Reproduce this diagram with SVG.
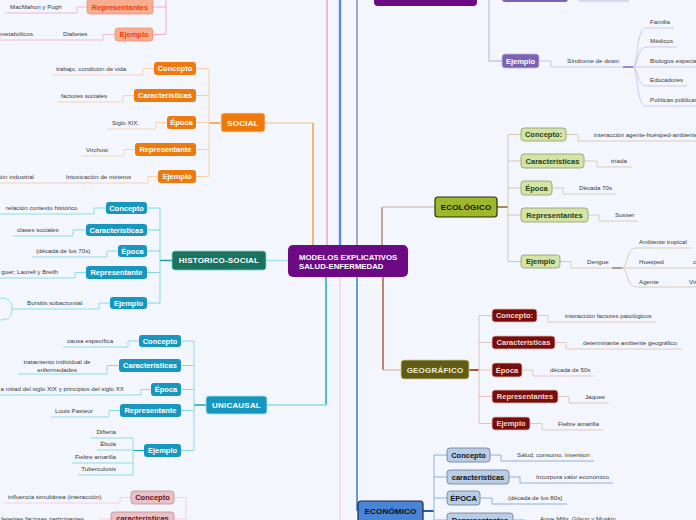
<svg xmlns="http://www.w3.org/2000/svg" width="696" height="520" viewBox="0 0 696 520">
<style>
text{font-family:"Liberation Sans",Arial,sans-serif}
.lf{font-size:6.2px;fill:#3a3a3a}
.le{font-size:6.2px;fill:#3a3a3a;text-anchor:end}
.lm{font-size:6.2px;fill:#3a3a3a;text-anchor:middle}
.nt{font-size:7.5px;font-weight:bold;text-anchor:middle}
.mt{font-size:8px;font-weight:bold;text-anchor:middle;letter-spacing:0.2px}
.w{fill:#ffffff}
path{fill:none;stroke-linejoin:round}
.or{fill:#ee7a0e}
.tl{fill:#1797bf}
.pk{fill:#f7ae90;stroke:#f0907a;stroke-width:0.8}
.pkt{fill:#f0400e}
.bp{fill:#e9c2c6;stroke:#c48a94;stroke-width:0.8}
.bpt{fill:#6a1028}
.eg{fill:#d4e4a4;stroke:#8a9d68;stroke-width:0.8}
.egt{fill:#24401a}
.gr{fill:#780d0d;stroke:#e8c0b8;stroke-width:0.8}
.grt{fill:#f4dcd0}
.ec{fill:#b8cde6;stroke:#6a7890;stroke-width:0.8}
.ect{fill:#111111}
.pu{fill:#7b62b2;stroke:#c0b4e0;stroke-width:0.8}
</style>
<rect x="0" y="0" width="696" height="520" fill="#f3f6fd"/>

<g id="connectors" stroke-width="1">
  <!-- main trunk lines from center -->
  <path d="M327,0 V245" stroke="#f5a0c4" stroke-width="1.5"/>
  <path d="M340,0 V245" stroke="#b8ccf8" stroke-width="3"/>
  <path d="M340,0 V245" stroke="#2a62f0" stroke-width="1.3"/>
  <path d="M357,0 V245" stroke="#9585c8" stroke-width="1.5"/>
  <path d="M265,123 H313" stroke="#f7d2b0" stroke-width="1.5"/>
  <path d="M313,123 V245" stroke="#f2a050" stroke-width="1.5"/>
  <path d="M266,260.5 H288" stroke="#a8e0ea" stroke-width="1.5"/>
  <path d="M382,245 V207" stroke="#b09070" stroke-width="1.5"/>
  <path d="M382,207 H435" stroke="#d4cabc" stroke-width="1.5"/>
  <path d="M326,277 V405" stroke="#18b0b0" stroke-width="1.5"/>
  <path d="M326,405 H267" stroke="#8fd8e0" stroke-width="1.5"/>
  <path d="M340,277 V520" stroke="#fcd0dc" stroke-width="1.5"/>
  <path d="M357,277 V511" stroke="#3a78d0" stroke-width="1.5"/>
  <path d="M383,277 V370" stroke="#a86038" stroke-width="1.5"/>
  <path d="M383,370 H401" stroke="#dcc0b0" stroke-width="1.5"/>

  <!-- SOCIAL -->
  <path d="M221,123 H209" stroke="#f29b45" stroke-width="1.5"/>
  <path d="M209,68.5 V176.5 M196,68.5 H209 M196,95.5 H209 M196,122.5 H209 M196,149.5 H209 M196,176.5 H209" stroke="#f7cfa8"/>
  <path d="M154,68.5 H143 V75 H52 M134,95.5 H123 V102 H57 M167,122.5 H156 V129 H107 M135,149.5 H124 V156 H82 M158,176.5 H148 V183 H0" stroke="#f7d2b4"/>

  <!-- top pink -->
  <path d="M166,-5 V34.5 M153,7 H166 M153,34.5 H166" stroke="#f4a8c8"/>
  <path d="M87,7 H77 V13 H5 M115,34.5 H103 V40 H0" stroke="#f4b8d0"/>

  <!-- HISTORICO-SOCIAL -->
  <path d="M172,260.5 H160" stroke="#1aa0a8" stroke-width="1.5"/>
  <path d="M160,208 V303 M147,208 H160 M147,230 H160 M147,251 H160 M147,272.5 H160 M147,303 H160" stroke="#7fd6e0"/>
  <path d="M106,208 H94 V214 H0 M86,230 H73 V236 H13 M118,251 H107 V257 H32 M86,272.5 H75 V278 H0 M110,303 H99 V309 H12 M12,309 C12,301 8,298 0,298 M12,309 C12,317 8,320 0,320" stroke="#8fdce4"/>

  <!-- UNICAUSAL -->
  <path d="M206,405 H194" stroke="#18a8b0" stroke-width="1.5"/>
  <path d="M194,341 V450.5 M181,341 H194 M181,365.5 H194 M181,389.5 H194 M181,410.5 H194 M181,450.5 H194" stroke="#8fd8e0"/>
  <path d="M139,341 H128 V347 H63 M119,365.5 H107 V374 H18 M151,389.5 H141 V395 H0 M120,410.5 H109 V417 H51" stroke="#8fdce4"/>
  <path d="M144,450.5 H133" stroke="#18a8b0" stroke-width="1.2"/>
  <path d="M133,438 V475 M133,438 H91 M133,450 H97 M133,463 H72 M133,475 H78" stroke="#8fdce4"/>

  <!-- bottom pink -->
  <path d="M186,497.5 V525 M174,497.5 H186 M174,519 H186" stroke="#f8d0dc"/>
  <path d="M131,497.5 H120 V503 H4 M111,519 H100 V525" stroke="#f8d0dc"/>

  <!-- top-right purple -->
  <path d="M489,0 V61 H502" stroke="#c8c0e4" stroke-width="1.3"/>
  <path d="M539,61 H551 V67 H623" stroke="#d0c8ea"/>
  <path d="M623,67 H633" stroke="#9a88cc" stroke-width="2"/>
  <path d="M633,67 C638,67 636,28 646,28 H674 M633,67 C638,67 637,47 646,47 H677 M633,67 H696 M633,67 C638,67 637,86 646,86 H687 M633,67 C638,67 636,106 646,106 H696" stroke="#d0c8ea"/>

  <!-- ECOLOGICO -->
  <path d="M497,207 H508" stroke="#a08a60" stroke-width="2"/>
  <path d="M508,134.5 V261.5 M508,134.5 H521 M508,161 H521 M508,188 H521 M508,215 H521 M508,261.5 H521" stroke="#d4c8b4"/>
  <path d="M566,134.5 H578 V141 H696 M584,161 H597 V167 H632 M552,188 H563 V194 H616 M588,215 H599 V221 H638 M560,261.5 H571 V268 H612" stroke="#d8ccba"/>
  <path d="M612,268 H622" stroke="#b0a080" stroke-width="2"/>
  <path d="M622,268 C628,268 626,248 636,248 H692 M622,268 H696 M622,268 C628,268 626,287 636,287 H696" stroke="#d8ccba"/>

  <!-- GEOGRAFICO -->
  <path d="M469,370 H479" stroke="#a85a30" stroke-width="2"/>
  <path d="M479,315.5 V423.5 M479,315.5 H492 M479,342.5 H492 M479,370 H492 M479,396.5 H492 M479,423.5 H492" stroke="#e0c4b8"/>
  <path d="M537,315.5 H548 V322 H656 M555,342.5 H566 V349 H682 M522,370 H533 V376 H594 M558,396.5 H569 V403 H609 M530,423.5 H542 V430 H603" stroke="#e2c8bc"/>

  <!-- ECONOMICO -->
  <path d="M423,511 H434" stroke="#2a5aa8" stroke-width="2"/>
  <path d="M434,455 V525 M434,455 H447 M434,477 H447 M434,498 H447 M434,520 H447" stroke="#8ab0dc"/>
  <path d="M490,455 H501 V461 H594 M509,477 H520 V483 H613 M480,498 H492 V504 H567 M513,520 H525 V526" stroke="#8ab0dc"/>
</g>

<!-- CENTER -->
<g id="center">
  <rect x="288" y="245" width="120" height="32" rx="5" fill="#6b0a84"/>
  <text x="299" y="259.5" class="w" font-size="7.8" font-weight="bold">MODELOS EXPLICATIVOS</text>
  <text x="299" y="269" class="w" font-size="7.8" font-weight="bold">SALUD-ENFERMEDAD</text>
</g>
<g id="top-purple-node"><rect x="374" y="-20" width="103" height="26" rx="4" fill="#6b0a84"/></g>
<g id="top-purple-child"><rect x="502" y="-12" width="66" height="14" rx="3" fill="#7b62b2"/></g>
<g id="top-purple-leaf"><rect x="578" y="-10" width="51" height="12" rx="1" fill="#ddd6f0"/></g>

<!-- SOCIAL -->
<g id="social"><rect x="221" y="113" width="44" height="19" rx="3" class="or" stroke="#fbd8b8" stroke-width="0.8"/><text x="243" y="125.5" class="mt w">SOCIAL</text></g>
<g id="social-concepto"><rect x="154" y="62" width="42" height="13" rx="3" class="or"/><text x="175" y="71.3" class="nt w">Concepto</text></g>
<g id="social-caracteristicas"><rect x="134" y="89" width="62" height="13" rx="3" class="or"/><text x="165" y="98.3" class="nt w">Características</text></g>
<g id="social-epoca"><rect x="167" y="116" width="29" height="13" rx="3" class="or"/><text x="181.5" y="125.3" class="nt w">Época</text></g>
<g id="social-representante"><rect x="135" y="143" width="61" height="13" rx="3" class="or"/><text x="165.5" y="152.3" class="nt w">Representante</text></g>
<g id="social-ejemplo"><rect x="158" y="170" width="38" height="13" rx="3" class="or"/><text x="177" y="179.3" class="nt w">Ejemplo</text></g>
<g id="social-l1"><text x="56" y="71" class="lf">trabajo, condición de vida</text></g>
<g id="social-l2"><text x="61" y="98" class="lf">factores sociales</text></g>
<g id="social-l3"><text x="112" y="125" class="lf">Siglo XIX.</text></g>
<g id="social-l4"><text x="86" y="152" class="lf">Virchow</text></g>
<g id="social-l5"><text x="66" y="179" class="lf">Intoxicación de mineros</text></g>
<g id="social-l6"><text x="34" y="179" class="le">ción industrial</text></g>

<!-- TOP PINK -->
<g id="pink-representantes"><rect x="87" y="-1" width="66" height="15" rx="3" class="pk"/><text x="120" y="9.5" class="nt pkt">Representantes</text></g>
<g id="pink-ejemplo"><rect x="115" y="28" width="38" height="13" rx="3" class="pk"/><text x="134" y="37.3" class="nt pkt">Ejemplo</text></g>
<g id="pink-l1"><text x="10" y="9.3" class="lf">MacMahon y Pugh</text></g>
<g id="pink-l2"><text x="63" y="36.3" class="lf">Diabetes</text></g>
<g id="pink-l3"><text x="33" y="36.3" class="le">metabólicos</text></g>

<!-- HISTORICO-SOCIAL -->
<g id="historico-social"><rect x="172" y="251" width="94" height="19" rx="3" fill="#1a735e" stroke="#7ad4c8" stroke-width="0.8"/><text x="219" y="263.3" class="mt w">HISTORICO-SOCIAL</text></g>
<g id="hs-concepto"><rect x="106" y="202" width="41" height="12" rx="3" class="tl"/><text x="126.5" y="210.8" class="nt w">Concepto</text></g>
<g id="hs-caracteristicas"><rect x="86" y="224" width="61" height="12" rx="3" class="tl"/><text x="116.5" y="232.8" class="nt w">Características</text></g>
<g id="hs-epoca"><rect x="118" y="245" width="29" height="12" rx="3" class="tl"/><text x="132.5" y="253.8" class="nt w">Época</text></g>
<g id="hs-representante"><rect x="86" y="266" width="61" height="13" rx="3" class="tl"/><text x="116.5" y="275.3" class="nt w">Representante</text></g>
<g id="hs-ejemplo"><rect x="110" y="297" width="37" height="12" rx="3" class="tl"/><text x="128.5" y="305.8" class="nt w">Ejemplo</text></g>
<g id="hs-l1"><text x="6" y="210.3" class="lf">relación contexto histórico</text></g>
<g id="hs-l2"><text x="17" y="232.3" class="lf">clases sociales</text></g>
<g id="hs-l3"><text x="36" y="253.3" class="lf">(década de los 70s)</text></g>
<g id="hs-l4"><text x="58" y="274.3" class="le">guer; Laurell y Breilh</text></g>
<g id="hs-l5"><text x="27" y="305.3" class="lf">Bursitis subacromial</text></g>

<!-- UNICAUSAL -->
<g id="unicausal"><rect x="206" y="396" width="61" height="18" rx="3" class="tl" stroke="#a8e4ee" stroke-width="0.8"/><text x="236.5" y="408" class="mt w">UNICAUSAL</text></g>
<g id="uc-concepto"><rect x="139" y="335" width="42" height="12" rx="3" class="tl"/><text x="160" y="343.8" class="nt w">Concepto</text></g>
<g id="uc-caracteristicas"><rect x="119" y="359" width="62" height="13" rx="3" class="tl"/><text x="150" y="368.3" class="nt w">Características</text></g>
<g id="uc-epoca"><rect x="151" y="383" width="30" height="13" rx="3" class="tl"/><text x="166" y="392.3" class="nt w">Época</text></g>
<g id="uc-representante"><rect x="120" y="404" width="61" height="13" rx="3" class="tl"/><text x="150.5" y="413.3" class="nt w">Representante</text></g>
<g id="uc-ejemplo"><rect x="144" y="444" width="37" height="13" rx="3" class="tl"/><text x="162.5" y="453.3" class="nt w">Ejemplo</text></g>
<g id="uc-l1"><text x="67" y="343.3" class="lf">causa específica</text></g>
<g id="uc-l2"><text x="57" y="364.3" class="lm">tratamiento individual de</text><text x="57" y="371.5" class="lm">enfermedades</text></g>
<g id="uc-l3"><text x="124" y="391.3" class="le">a mitad del siglo XIX y principios del siglo XX</text></g>
<g id="uc-l4"><text x="55" y="413.3" class="lf">Louis Pasteur</text></g>
<g id="uc-l5"><text x="116" y="434.3" class="le">Difteria</text></g>
<g id="uc-l6"><text x="116" y="446.3" class="le">Ébola</text></g>
<g id="uc-l7"><text x="116" y="459.3" class="le">Fiebre amarilla</text></g>
<g id="uc-l8"><text x="116" y="471.3" class="le">Tuberculosis</text></g>

<!-- BOTTOM PINK -->
<g id="bp-concepto"><rect x="131" y="491" width="43" height="13" rx="3" class="bp"/><text x="152.5" y="500.3" class="nt bpt">Concepto</text></g>
<g id="bp-caracteristicas"><rect x="111" y="512" width="63" height="14" rx="3" class="bp"/><text x="142.5" y="521" class="nt bpt">características</text></g>
<g id="bp-l1"><text x="8" y="499.3" class="lf">influencia simultánea (interacción)</text></g>
<g id="bp-l2"><text x="84" y="520.5" class="le">ferentes factores participantes</text></g>

<!-- TOP-RIGHT PURPLE -->
<g id="pu-ejemplo"><rect x="502" y="54" width="37" height="14" rx="3" class="pu"/><text x="520.5" y="63.6" class="nt w">Ejemplo</text></g>
<g id="pu-l1"><text x="567" y="63.3" class="lf">Síndrome de down</text></g>
<g id="pu-l2"><text x="650" y="24" class="lf">Familia</text></g>
<g id="pu-l3"><text x="650" y="43" class="lf">Médicos</text></g>
<g id="pu-l4"><text x="650" y="63" class="lf">Biologos especia</text></g>
<g id="pu-l5"><text x="650" y="82" class="lf">Educadores</text></g>
<g id="pu-l6"><text x="650" y="101.5" class="lf">Políticas públicas</text></g>

<!-- ECOLOGICO -->
<g id="ecologico"><rect x="435" y="197" width="62" height="20" rx="3" fill="#9db82b" stroke="#2a3010" stroke-width="1.2"/><text x="466" y="209.8" class="mt" fill="#111">ECOLÓGICO</text></g>
<g id="ec-concepto"><rect x="521" y="128" width="45" height="13" rx="3" class="eg"/><text x="543.5" y="137.3" class="nt egt">Concepto:</text></g>
<g id="ec-caracteristicas"><rect x="521" y="154" width="63" height="14" rx="3" class="eg"/><text x="552.5" y="163.8" class="nt egt">Características</text></g>
<g id="ec-epoca"><rect x="521" y="181" width="31" height="14" rx="3" class="eg"/><text x="536.5" y="190.8" class="nt egt">Época</text></g>
<g id="ec-representantes"><rect x="521" y="208" width="67" height="14" rx="3" class="eg"/><text x="554.5" y="217.8" class="nt egt">Representantes</text></g>
<g id="ec-ejemplo"><rect x="521" y="255" width="39" height="13" rx="3" class="eg"/><text x="540.5" y="264.3" class="nt egt">Ejemplo</text></g>
<g id="ec-l1"><text x="594" y="136.5" class="lf">interacción agente-huésped-ambiente</text></g>
<g id="ec-l2"><text x="611" y="163" class="lf">tríada</text></g>
<g id="ec-l3"><text x="579" y="190" class="lf">Década 70s</text></g>
<g id="ec-l4"><text x="615" y="217" class="lf">Susser</text></g>
<g id="ec-l5"><text x="587" y="264" class="lf">Dengue</text></g>
<g id="ec-l6"><text x="639" y="244" class="lf">Ambiente tropical</text></g>
<g id="ec-l7"><text x="639" y="264" class="lf">Huesped</text></g>
<g id="ec-l8"><text x="639" y="283.5" class="lf">Agente</text></g>
<g id="ec-l9"><text x="693" y="264" class="lf">c</text></g>
<g id="ec-l10"><text x="689" y="283.5" class="lf">Vir</text></g>

<!-- GEOGRAFICO -->
<g id="geografico"><rect x="401" y="360" width="68" height="19" rx="3" fill="#615c15" stroke="#d8d0a0" stroke-width="0.8"/><text x="435" y="372.5" class="mt" fill="#f0ead0">GEOGRÁFICO</text></g>
<g id="ge-concepto"><rect x="492" y="309" width="45" height="13" rx="3" class="gr"/><text x="514.5" y="318.3" class="nt grt">Concepto:</text></g>
<g id="ge-caracteristicas"><rect x="492" y="336" width="63" height="13" rx="3" class="gr"/><text x="523.5" y="345.3" class="nt grt">Características</text></g>
<g id="ge-epoca"><rect x="492" y="363" width="30" height="14" rx="3" class="gr"/><text x="507" y="372.8" class="nt grt">Época</text></g>
<g id="ge-representantes"><rect x="492" y="390" width="66" height="13" rx="3" class="gr"/><text x="525" y="399.3" class="nt grt">Representantes</text></g>
<g id="ge-ejemplo"><rect x="492" y="417" width="38" height="13" rx="3" class="gr"/><text x="511" y="426.3" class="nt grt">Ejemplo</text></g>
<g id="ge-l1"><text x="565" y="318" class="lf">interacción factores patológicos</text></g>
<g id="ge-l2"><text x="583" y="345" class="lf">determinante ambiente geográfico</text></g>
<g id="ge-l3"><text x="550" y="372.3" class="lf">década de 50s</text></g>
<g id="ge-l4"><text x="585" y="399" class="lf">Jaques</text></g>
<g id="ge-l5"><text x="558" y="426" class="lf">Fiebre amarilla</text></g>

<!-- ECONOMICO -->
<g id="economico"><rect x="358" y="501" width="65" height="25" rx="3" fill="#4a84d6" stroke="#1a2848" stroke-width="1.2"/><text x="390.5" y="514" class="mt" fill="#0a0a0a">ECONÓMICO</text></g>
<g id="eco-concepto"><rect x="447" y="448" width="43" height="14" rx="3" class="ec"/><text x="468.5" y="457.8" class="nt ect">Concepto</text></g>
<g id="eco-caracteristicas"><rect x="447" y="470" width="62" height="14" rx="3" class="ec"/><text x="478" y="479.8" class="nt ect">características</text></g>
<g id="eco-epoca"><rect x="447" y="491" width="33" height="14" rx="3" class="ec"/><text x="463.5" y="500.8" class="nt ect">ÉPOCA</text></g>
<g id="eco-representantes"><rect x="447" y="513" width="66" height="14" rx="3" class="ec"/><text x="480" y="522.8" class="nt ect">Representantes</text></g>
<g id="eco-l1"><text x="517" y="457" class="lf">Salud, consumo, inversion</text></g>
<g id="eco-l2"><text x="536" y="479" class="lf">Incorpora valor económico</text></g>
<g id="eco-l3"><text x="508" y="500" class="lf">(década de los 80s)</text></g>
<g id="eco-l4"><text x="540" y="521" class="lf">Anne Mills, Gilson y Muskin</text></g>
</svg>
